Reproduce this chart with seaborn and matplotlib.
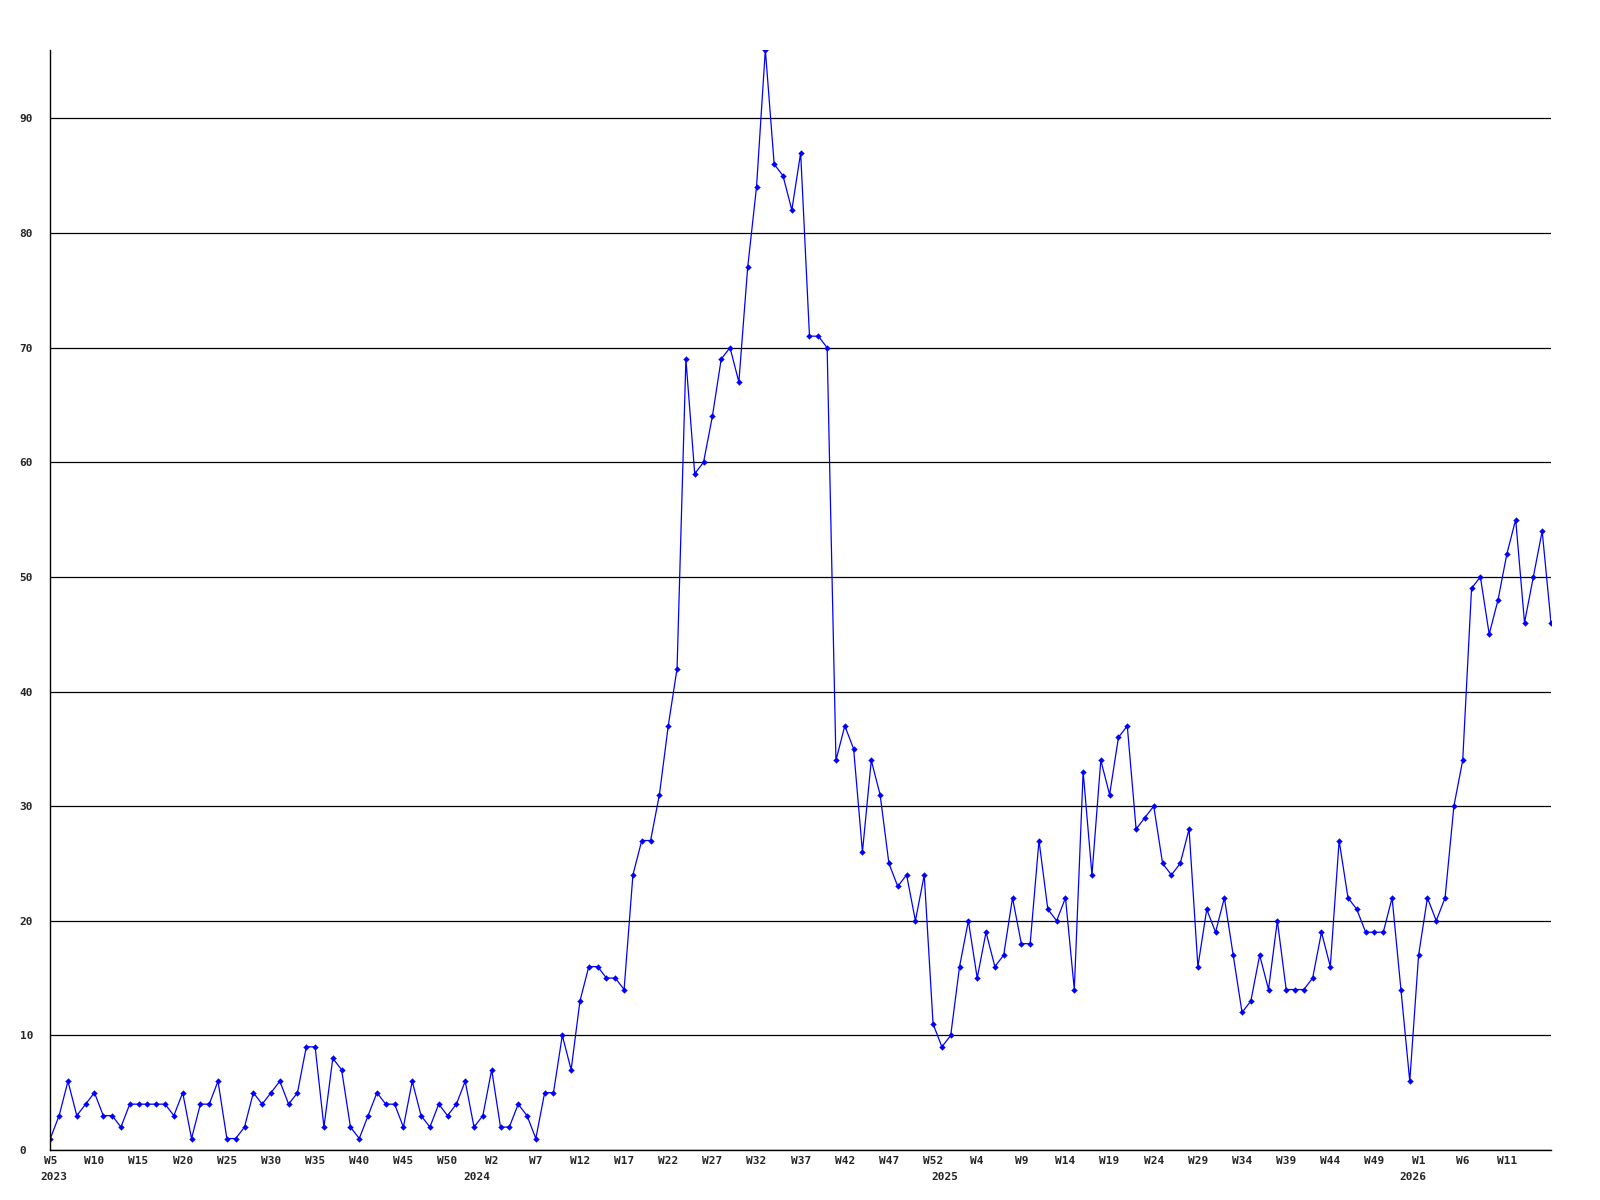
import numpy as np
import pandas as pd
import matplotlib
matplotlib.use("Agg")
import matplotlib.pyplot as plt
import seaborn as sns

# weekly values, 2023 W5 .. 2026 W16
values = [
    1, 3, 6, 3, 4, 5, 3, 3, 2, 4, 4, 4, 4, 4, 3, 5, 1, 4, 4, 6,
    1, 1, 2, 5, 4, 5, 6, 4, 5, 9, 9, 2, 8, 7, 2, 1, 3, 5, 4, 4,
    2, 6, 3, 2, 4, 3, 4, 6, 2, 3, 7, 2, 2, 4, 3, 1, 5, 5, 10, 7,
    13, 16, 16, 15, 15, 14, 24, 27, 27, 31, 37, 42, 69, 59, 60, 64, 69, 70, 67, 77,
    84, 96, 86, 85, 82, 87, 71, 71, 70, 34, 37, 35, 26, 34, 31, 25, 23, 24, 20, 24,
    11, 9, 10, 16, 20, 15, 19, 16, 17, 22, 18, 18, 27, 21, 20, 22, 14, 33, 24, 34,
    31, 36, 37, 28, 29, 30, 25, 24, 25, 28, 16, 21, 19, 22, 17, 12, 13, 17, 14, 20,
    14, 14, 14, 15, 19, 16, 27, 22, 21, 19, 19, 19, 22, 14, 6, 17, 22, 20, 22, 30,
    34, 49, 50, 45, 48, 52, 55, 46, 50, 54, 46,
]

# tick labels, one every 5 weeks
week_ticks = [
    "W5", "W10", "W15", "W20", "W25", "W30", "W35", "W40", "W45", "W50",
    "W2", "W7", "W12", "W17", "W22", "W27", "W32", "W37", "W42", "W47", "W52",
    "W4", "W9", "W14", "W19", "W24", "W29", "W34", "W39", "W44", "W49",
    "W1", "W6", "W11",
]

years = ["2023", "2024", "2025", "2026"]
year_weeks = [49, 53, 53, 16]   # number of points falling in each year

y_ticks = [0, 10, 20, 30, 40, 50, 60, 70, 80, 90]

df = pd.DataFrame({"idx": np.arange(len(values)), "value": values})

sns.set_style("white")
plt.rcParams["font.family"] = ["DejaVu Sans Mono", "DejaVu Sans"]
plt.rcParams["font.weight"] = "bold"

fig = plt.figure(figsize=(16, 12), dpi=100)
ax = fig.add_axes([50.3 / 1600, 1 - 1150 / 1200, (1551 - 50.3) / 1600, (1150 - 49.6) / 1200])

sns.lineplot(data=df, x="idx", y="value", ax=ax, color="blue", linewidth=0.9,
             marker="D", markersize=3.0, markeredgecolor="blue", markeredgewidth=0.2)

ax.set_xlim(0, len(values) - 1)
ax.set_ylim(0, max(values))

ax.set_yticks(y_ticks)
ax.set_yticklabels([str(v) for v in y_ticks], fontsize=8, fontweight="bold", ha="left")
ax.tick_params(axis="y", length=0, pad=22)

ax.set_xticks(range(0, 5 * len(week_ticks), 5))
ax.set_xticklabels(week_ticks, fontsize=8, fontweight="bold")
ax.tick_params(axis="x", length=0, pad=4.5)

ax.yaxis.grid(True, color="black", linewidth=0.9)
ax.xaxis.grid(False)
ax.set_axisbelow(True)

for side in ["top", "right"]:
    ax.spines[side].set_visible(False)
for side in ["left", "bottom"]:
    ax.spines[side].set_color("black")
    ax.spines[side].set_linewidth(1.0)

ax.set_xlabel("")
ax.set_ylabel("")

# year labels under the first week of each year
start = 0
for i, (yr, n) in enumerate(zip(years, year_weeks)):
    if i == 0:
        ax.annotate(yr, xy=(start, 0), xycoords=("data", "axes fraction"),
                    xytext=(-7.5, -15.5), textcoords="offset points",
                    ha="left", va="top", fontsize=8, fontweight="bold")
    else:
        ax.annotate(yr, xy=(start, 0), xycoords=("data", "axes fraction"),
                    xytext=(-4, -15.5), textcoords="offset points",
                    ha="center", va="top", fontsize=8, fontweight="bold")
    start += n

fig.savefig("out.png", dpi=100, facecolor="white")
